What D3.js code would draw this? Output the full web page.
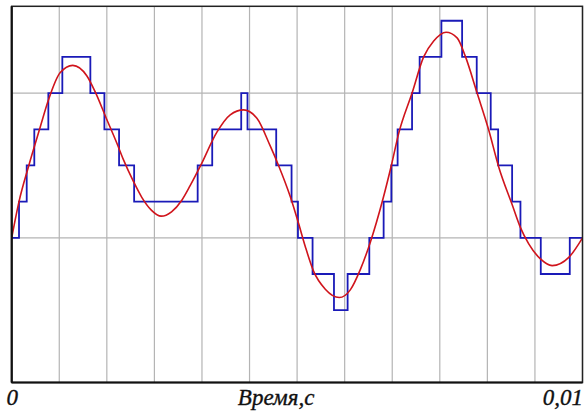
<!DOCTYPE html>
<html>
<head>
<meta charset="utf-8">
<script src="https://cdn.jsdelivr.net/npm/d3@7"></script>
<style>
  body { margin: 0; background: #fff; }
  svg { display: block; }
</style>
</head>
<body>
<svg width="586" height="412"></svg>
<script>
// время в мс, значения в вольтах (шаг квантования 0.25)
const signalT = [0, 0.128, 0.3, 0.496, 0.642, 0.847, 1.070, 1.315, 1.461, 1.653, 1.841, 1.957,
  2.132, 2.279, 2.45, 2.618, 2.8, 2.981, 3.126, 3.311, 3.595, 3.828, 4.062, 4.296, 4.529, 4.675, 4.880,
  5.025, 5.143, 5.288, 5.494, 5.739, 5.932, 6.107, 6.283, 6.505, 6.651, 6.779, 7.014, 7.217,
  7.393, 7.610, 7.803, 7.948, 8.154, 8.357, 8.532, 8.767, 8.913, 9.058, 9.263, 9.468, 9.760, 10];
const signalV = [0, 0.25, 0.5, 0.76, 0.95, 1.14, 1.192, 1.12, 1.01, 0.83, 0.655, 0.54,
  0.39, 0.28, 0.19, 0.15, 0.18, 0.26, 0.36, 0.5, 0.73, 0.85, 0.884, 0.826, 0.635, 0.5, 0.285,
  0.1, -0.06, -0.23, -0.355, -0.413, -0.36, -0.22, -0.03, 0.27, 0.5, 0.72, 1.0, 1.25,
  1.36, 1.421, 1.382, 1.254, 1.0, 0.745, 0.49, 0.23, 0.07, -0.042, -0.146, -0.192, -0.135, 0];

// квантованный сигнал: моменты переключения и уровни
const stepT = [0, 0.128, 0.263, 0.396, 0.642, 0.887, 1.378, 1.624, 1.881, 2.145, 3.258, 3.513,
  4.021, 4.131, 4.634, 4.903, 5.015, 5.271, 5.646, 5.885, 6.265, 6.516, 6.651, 6.761, 7.014,
  7.147, 7.528, 7.891, 8.147, 8.392, 8.522, 8.767, 8.913, 9.269, 9.777, 10];
const stepV = [0, 0.25, 0.5, 0.75, 1.0, 1.25, 1.0, 0.75, 0.5, 0.25, 0.5, 0.75,
  1.0, 0.75, 0.5, 0.25, 0, -0.25, -0.5, -0.25, 0, 0.25, 0.5, 0.75, 1.0,
  1.25, 1.5, 1.25, 1.0, 0.75, 0.5, 0.25, 0, -0.25, 0, 0];

const tickVals = [0, 10];
const tickLabels = ["0", "0,01"];
const xLabel = "Время,с";
const gridX = d3.range(13).map(i => i * 10 / 12);
const gridY = [0, 1];

const svg = d3.select("svg");
const padL = 11.7, padR = 582.5, padT = 6.3, padB = 382.5;
const serif = "'Liberation Serif', 'Times New Roman', Times, serif";

const x = d3.scaleLinear().domain([0, 10]).range([padL, padR]);
const y = d3.scaleLinear().domain([-1, 1.6]).range([padB, padT]);

// сетка
svg.append("g")
  .selectAll("line")
  .data(gridX)
  .join("line")
  .attr("x1", d => x(d)).attr("x2", d => x(d))
  .attr("y1", padT).attr("y2", padB)
  .attr("stroke", "#b4b4b4").attr("stroke-width", 1.2);

svg.append("g")
  .selectAll("line")
  .data(gridY)
  .join("line")
  .attr("x1", padL).attr("x2", padR)
  .attr("y1", d => y(d)).attr("y2", d => y(d))
  .attr("stroke", "#b4b4b4").attr("stroke-width", 1.2);

// кривые
const stepData = stepT.map((t, i) => ({t: t, v: stepV[i]}));
const sigData = signalT.map((t, i) => ({t: t, v: signalV[i]}));

svg.append("path")
  .attr("d", d3.line().x(d => x(d.t)).y(d => y(d.v)).curve(d3.curveStepAfter)(stepData))
  .attr("fill", "none")
  .attr("stroke", "#1a1ab8")
  .attr("stroke-width", 1.8);

svg.append("path")
  .attr("d", d3.line().x(d => x(d.t)).y(d => y(d.v)).curve(d3.curveMonotoneX)(sigData))
  .attr("fill", "none")
  .attr("stroke", "#d0141c")
  .attr("stroke-width", 1.6);

// рамка
svg.append("rect")
  .attr("x", padL).attr("y", padT)
  .attr("width", padR - padL).attr("height", padB - padT)
  .attr("fill", "none")
  .attr("stroke", "#222").attr("stroke-width", 1.5);
svg.append("line")
  .attr("x1", padL).attr("x2", padL).attr("y1", padT).attr("y2", padB)
  .attr("stroke", "#111").attr("stroke-width", 2.2);
svg.append("line")
  .attr("x1", padL).attr("x2", padR).attr("y1", padB).attr("y2", padB)
  .attr("stroke", "#111").attr("stroke-width", 2.2);

// подписи оси
const axis = d3.axisBottom(x)
  .tickValues(tickVals)
  .tickFormat((d, i) => tickLabels[i])
  .tickSize(0)
  .tickPadding(0);
const gAxis = svg.append("g").attr("transform", `translate(0,${padB})`).call(axis);
gAxis.select(".domain").remove();
gAxis.attr("font-family", serif).attr("font-size", 23).attr("font-style", "italic");
gAxis.selectAll("text")
  .attr("dy", null)
  .attr("y", 22)
  .attr("fill", "#111")
  .attr("stroke", "#111").attr("stroke-width", 0.35)
  .attr("text-anchor", (d, i) => i === 0 ? "middle" : "end");

svg.append("text")
  .attr("x", (padL + padR) / 2 - 21)
  .attr("y", padB + 22)
  .attr("text-anchor", "middle")
  .attr("font-family", serif)
  .attr("font-size", 23)
  .attr("font-style", "italic")
  .attr("fill", "#111")
  .attr("stroke", "#111").attr("stroke-width", 0.35)
  .text(xLabel);
</script>
</body>
</html>
